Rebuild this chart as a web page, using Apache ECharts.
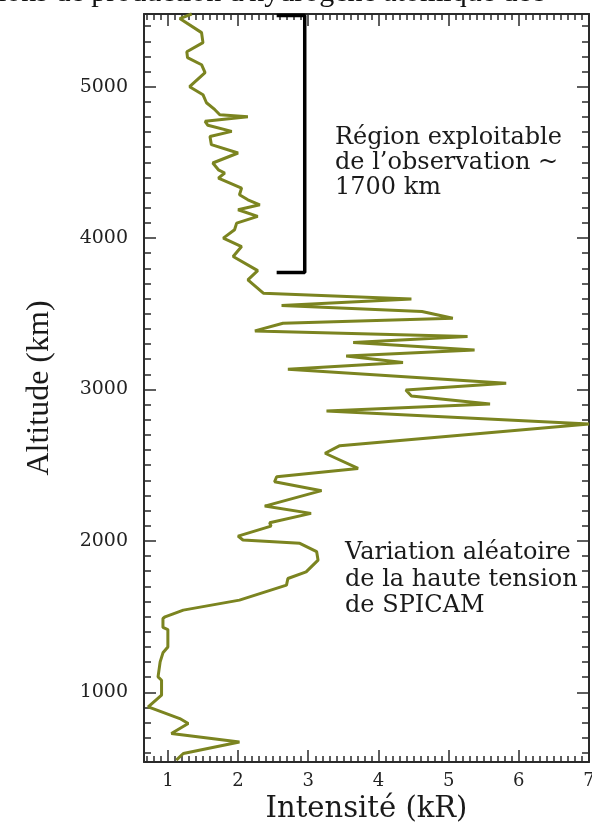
<!DOCTYPE html>
<html>
<head>
<meta charset="utf-8">
<script src="https://cdn.jsdelivr.net/npm/echarts@6/dist/echarts.min.js"></script>
<style>
html,body{margin:0;padding:0;background:#fff;}
#chart{width:592px;height:830px;}
</style>
</head>
<body>
<div id="chart"></div>
<script>
// ---- Data ----
const intensity = [
  1.34, 1.17, 1.48, 1.50, 1.27, 1.28, 1.48, 1.53, 1.31, 1.50,
  1.55, 1.67, 1.74, 2.14, 1.53, 1.57, 1.91, 1.60, 1.62, 2.00,
  1.64, 1.72, 1.81, 1.72, 2.05, 2.02, 2.14, 2.31, 2.00, 2.28,
  1.98, 1.95, 1.79, 2.05, 1.93, 2.28, 2.14, 2.36, 4.47, 2.62,
  4.62, 5.06, 2.64, 2.24, 5.27, 3.64, 5.37, 3.54, 4.35, 2.71,
  5.82, 4.39, 4.47, 5.59, 3.26, 7.00, 3.45, 3.24, 3.71, 2.55,
  2.52, 3.19, 2.38, 3.04, 2.45, 2.47, 2.00, 2.07, 2.88, 3.12,
  3.14, 2.97, 2.71, 2.69, 2.02, 1.22, 0.96, 0.93, 0.93, 1.00,
  1.00, 0.93, 0.89, 0.86, 0.91, 0.91, 0.89, 0.72, 1.17, 1.29,
  1.05, 2.02, 1.22, 1.12
];
const altitude = [
  5480, 5450, 5357, 5291, 5231, 5192, 5145, 5093, 5000, 4947,
  4894, 4848, 4815, 4802, 4771, 4745, 4705, 4671, 4617, 4562,
  4496, 4451, 4430, 4396, 4330, 4286, 4253, 4220, 4187, 4143,
  4099, 4055, 4000, 3944, 3878, 3785, 3724, 3636, 3597, 3555,
  3515, 3471, 3438, 3387, 3350, 3310, 3261, 3222, 3178, 3134,
  3041, 2997, 2957, 2904, 2858, 2772, 2629, 2579, 2479, 2424,
  2391, 2332, 2230, 2182, 2120, 2098, 2032, 2006, 1984, 1929,
  1873, 1796, 1752, 1708, 1609, 1543, 1499, 1488, 1429, 1415,
  1300, 1261, 1201, 1102, 1080, 981, 970, 904, 827, 794,
  728, 672, 596, 552
];
// Bracket marking the exploitable region
const bracketIntensity = [2.55, 2.95, 2.95, 2.55];
const bracketAltitude = [3772, 3772, 5470, 5470];

// Tick labels
const xTickLabels = [1, 2, 3, 4, 5, 6, 7];
const yTickLabels = [1000, 2000, 3000, 4000, 5000];

const xMin = 0.66, xMax = 7.0, yMin = 540, yMax = 5480;

const xMinor = [];
for (let i = 7; i <= 70; i++) { if (i % 10 !== 0) xMinor.push(i / 10); }
const yMinor = [];
for (let v = 600; v <= 5400; v += 100) { if (v % 1000 !== 0) yMinor.push(v); }

const axisColor = '#2a2a2a';
const serif = 'DejaVu Serif';
const plain = v => String(v);

function xAx(pos, ticks, len, showLine, labels, name) {
  return {
    type: 'value', position: pos, min: xMin, max: xMax,
    axisLine: { show: showLine, onZero: false, lineStyle: { color: axisColor, width: 2 } },
    axisTick: { show: true, inside: true, length: len, customValues: ticks, lineStyle: { color: axisColor, width: 1.5 } },
    axisLabel: labels ? { show: true, customValues: labels, formatter: plain, margin: 10, color: '#222', fontFamily: serif, fontSize: 18 } : { show: false },
    splitLine: { show: false },
    name: name || '',
    nameLocation: 'middle', nameGap: 26,
    nameTextStyle: { fontFamily: serif, fontSize: 29, color: '#1a1a1a' }
  };
}
function yAx(pos, ticks, len, showLine, labels, name) {
  return {
    type: 'value', position: pos, min: yMin, max: yMax,
    axisLine: { show: showLine, onZero: false, lineStyle: { color: axisColor, width: 2 } },
    axisTick: { show: true, inside: true, length: len, customValues: ticks, lineStyle: { color: axisColor, width: 1.5 } },
    axisLabel: labels ? { show: true, customValues: labels, formatter: plain, margin: 16, color: '#222', fontFamily: serif, fontSize: 19 } : { show: false },
    splitLine: { show: false },
    name: name || '',
    nameLocation: 'middle', nameGap: 88,
    nameTextStyle: { fontFamily: 'Liberation Serif', fontSize: 32, color: '#1a1a1a' }
  };
}

const chart = echarts.init(document.getElementById('chart'), null, { renderer: 'canvas' });
chart.setOption({
  animation: false,
  backgroundColor: '#fff',
  grid: { left: 144, right: 3, top: 14, bottom: 68, containLabel: false, outerBoundsMode: 'none' },
  xAxis: [
    xAx('bottom', xTickLabels, 12, true, xTickLabels, 'Intensité (kR)'),
    xAx('bottom', xMinor, 6, false, null),
    xAx('top', xTickLabels, 12, true, null),
    xAx('top', xMinor, 6, false, null)
  ],
  yAxis: [
    yAx('left', yTickLabels, 12, true, yTickLabels, 'Altitude (km)'),
    yAx('left', yMinor, 7, false, null),
    yAx('right', yTickLabels, 12, true, null),
    yAx('right', yMinor, 7, false, null)
  ],
  series: [
    {
      type: 'line', xAxisIndex: 0, yAxisIndex: 0,
      data: intensity.map((v, i) => [v, altitude[i]]),
      showSymbol: false, symbol: 'none', clip: false,
      lineStyle: { color: '#7b8420', width: 3 }, z: 3
    },
    {
      type: 'line', xAxisIndex: 0, yAxisIndex: 0,
      data: bracketIntensity.map((v, i) => [v, bracketAltitude[i]]),
      showSymbol: false, symbol: 'none', clip: false,
      lineStyle: { color: '#000', width: 3.5 }, z: 4
    }
  ],
  graphic: [
    {
      type: 'text', left: -2, top: -22, silent: true,
      style: { text: "ions de production d'hydrogène atomique déc", font: '30px "Liberation Serif"', fill: '#111' }
    },
    {
      type: 'text', left: 335, top: 125, silent: true,
      style: { text: 'Région exploitable\nde l\u2019observation ~\n1700 km', font: '24px "DejaVu Serif"', lineHeight: 25, fill: '#1a1a1a' }
    },
    {
      type: 'text', left: 345, top: 540, silent: true,
      style: { text: 'Variation aléatoire\nde la haute tension\nde SPICAM', font: '24px "DejaVu Serif"', lineHeight: 26.5, fill: '#1a1a1a' }
    }
  ]
});
</script>
</body>
</html>
